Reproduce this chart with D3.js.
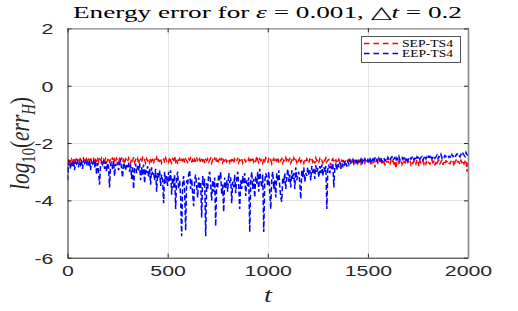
<!DOCTYPE html>
<html>
<head>
<meta charset="utf-8">
<script src="https://cdn.jsdelivr.net/npm/d3@7"></script>
<style>
  body { margin: 0; background: #fff; }
  svg { display: block; }
</style>
</head>
<body>
<svg width="518" height="311"></svg>
<script>
// sampled every 5 time units, t = 0 .. 2000
var dt = 5;

var sepTS4 = [
  -3.0, -2.6, -2.54, -2.66, -2.57, -2.7, -2.52, -2.63, -2.58, -2.5, -2.67, -2.56, -2.62, -2.49, -2.68, -2.58, -2.53, -2.65, -2.6, -2.55,
  -2.7, -2.57, -2.62, -2.5, -2.66, -2.59, -2.54, -2.72, -2.58, -2.62, -2.5, -2.67, -2.56, -2.6, -2.53, -2.74, -2.58, -2.63, -2.55, -2.68,
  -2.6, -2.52, -2.66, -2.58, -2.62, -2.5, -2.7, -2.56, -2.64, -2.53, -2.6, -2.68, -2.55, -2.62, -2.5, -2.66, -2.59, -2.72, -2.55, -2.6,
  -2.65, -2.52, -2.6, -2.7, -2.56, -2.62, -2.49, -2.67, -2.58, -2.63, -2.54, -2.72, -2.6, -2.56, -2.66, -2.52, -2.62, -2.58, -2.7, -2.55,
  -2.62, -2.57, -2.68, -2.52, -2.64, -2.58, -2.71, -2.55, -2.6, -2.5, -2.66, -2.58, -2.63, -2.54, -2.7, -2.6, -2.56, -2.68, -2.52, -2.62,
  -2.58, -2.66, -2.5, -2.63, -2.7, -2.55, -2.6, -2.47, -2.65, -2.57, -2.73, -2.6, -2.54, -2.66, -2.58, -2.62, -2.5, -2.68, -2.56, -2.61,
  -2.67, -2.55, -2.6, -2.52, -2.64, -2.58, -2.7, -2.56, -2.62, -2.5, -2.66, -2.6, -2.55, -2.68, -2.58, -2.63, -2.52, -2.7, -2.57, -2.62,
  -2.55, -2.66, -2.6, -2.53, -2.69, -2.58, -2.62, -2.5, -2.66, -2.57, -2.71, -2.6, -2.55, -2.64, -2.52, -2.68, -2.58, -2.62, -2.54, -2.66,
  -2.6, -2.56, -2.67, -2.53, -2.62, -2.58, -2.7, -2.55, -2.6, -2.64, -2.52, -2.68, -2.58, -2.62, -2.55, -2.7, -2.6, -2.57, -2.65, -2.58,
  -2.62, -2.54, -2.68, -2.58, -2.6, -2.5, -2.66, -2.57, -2.63, -2.46, -2.6, -2.68, -2.55, -2.62, -2.58, -2.7, -2.56, -2.64, -2.52, -2.6,
  -2.66, -2.55, -2.62, -2.58, -2.72, -2.6, -2.54, -2.66, -2.59, -2.63, -2.5, -2.68, -2.57, -2.62, -2.55, -2.7, -2.6, -2.64, -2.52, -2.66,
  -2.58, -2.62, -2.55, -2.7, -2.6, -2.66, -2.52, -2.63, -2.58, -2.68, -2.56, -2.62, -2.5, -2.66, -2.6, -2.57, -2.7, -2.58, -2.64, -2.55,
  -2.62, -2.69, -2.56, -2.6, -2.54, -2.66, -2.58, -2.72, -2.52, -2.62, -2.58, -2.67, -2.55, -2.63, -2.6, -2.7, -2.57, -2.62, -2.53, -2.66,
  -2.6, -2.57, -2.66, -2.78, -2.6, -2.55, -2.68, -2.62, -2.58, -2.7, -2.63, -2.56, -2.66, -2.82, -2.6, -2.64, -2.57, -2.7, -2.6, -2.66,
  -2.62, -2.58, -2.7, -2.6, -2.66, -2.55, -2.73, -2.62, -2.6, -2.68, -2.57, -2.65, -2.6, -2.72, -2.58, -2.66, -2.62, -2.7, -2.6, -2.64,
  -2.66, -2.6, -2.58, -2.74, -2.62, -2.68, -2.6, -2.85, -2.64, -2.6, -2.7, -2.62, -2.57, -2.72, -2.64, -2.68, -2.6, -2.78, -2.62, -2.66,
  -2.64, -2.7, -2.76, -2.6, -2.68, -2.62, -2.72, -2.64, -2.88, -2.66, -2.6, -2.7, -2.64, -2.6, -2.74, -2.62, -2.68, -2.64, -2.72, -2.6,
  -2.68, -2.62, -2.6, -2.75, -2.64, -2.7, -2.63, -2.6, -2.72, -2.58, -2.66, -2.8, -2.62, -2.7, -2.66, -2.62, -2.74, -2.64, -2.72, -2.6,
  -2.65, -2.7, -2.74, -2.62, -2.6, -2.69, -2.64, -2.78, -2.62, -2.7, -2.63, -2.6, -2.72, -2.66, -2.6, -2.76, -2.64, -2.7, -2.62, -2.66,
  -2.62, -2.7, -2.72, -2.64, -2.65, -2.6, -2.8, -2.66, -2.6, -2.7, -2.64, -2.66, -2.74, -2.6, -2.68, -2.62, -2.72, -2.64, -2.6, -3.0,
  -2.68
];

var eepTS4 = [
  -3.3, -2.75, -2.62, -2.9, -2.68, -2.8, -2.6, -2.95, -2.66, -2.72, -2.58, -2.85, -2.64, -2.75, -2.6, -2.9, -2.62, -2.7, -2.57, -2.8,
  -2.65, -2.78, -2.6, -2.95, -2.66, -2.72, -2.58, -2.85, -2.62, -3.1, -2.7, -3.0, -3.45, -2.8, -2.66, -2.75, -2.6, -2.9, -2.64, -3.0,
  -2.7, -2.85, -3.55, -2.75, -2.65, -2.9, -2.62, -3.15, -2.72, -2.8, -2.66, -2.95, -2.7, -2.62, -2.88, -3.2, -2.68, -2.8, -2.95, -2.72,
  -2.85, -2.68, -3.0, -2.75, -3.25, -2.8, -3.6, -2.9, -2.72, -3.05, -2.8, -2.95, -2.7, -3.3, -2.85, -3.1, -2.75, -3.4, -2.9, -3.05,
  -2.8, -3.2, -2.9, -3.45, -2.85, -3.1, -3.0, -3.3, -2.9, -3.7, -3.05, -3.25, -2.95, -3.5, -3.1, -3.3, -4.1, -3.0, -3.4, -3.15,
  -3.5, -3.0, -3.35, -2.95, -3.8, -3.2, -3.55, -3.1, -4.3, -3.25, -3.0, -3.6, -3.3, -3.9, -5.25, -3.4, -3.15, -3.7, -5.05, -3.3,
  -3.45, -3.1, -2.95, -3.6, -3.25, -3.75, -4.2, -3.3, -3.1, -3.5, -3.9, -3.2, -3.6, -3.35, -4.6, -3.15, -3.5, -3.25, -5.25, -3.4,
  -3.6, -3.1, -3.0, -3.45, -4.0, -3.3, -3.7, -3.2, -4.9, -3.4, -3.55, -3.1, -3.3, -3.0, -3.8, -3.45, -4.4, -3.2, -3.6, -3.3,
  -3.7, -3.05, -3.4, -3.2, -4.1, -3.35, -3.55, -3.1, -3.75, -3.25, -3.0, -3.5, -4.3, -3.3, -3.6, -3.15, -3.4, -3.05, -3.85, -3.3,
  -3.5, -3.2, -5.1, -3.35, -3.0, -3.6, -3.25, -3.9, -3.15, -3.45, -3.0, -3.7, -2.9, -3.3, -3.55, -3.1, -5.1, -3.35, -3.05, -3.2,
  -3.5, -3.0, -3.7, -4.3, -3.2, -3.0, -3.6, -3.3, -3.9, -3.05, -3.35, -2.95, -3.5, -3.9, -4.05, -3.2, -3.4, -3.05, -3.6, -3.2,
  -2.9, -3.35, -3.1, -3.55, -2.95, -3.25, -3.05, -3.6, -2.85, -3.3, -3.1, -3.0, -3.4, -3.95, -2.95, -3.2, -2.85, -3.35, -3.05, -3.15,
  -2.85, -3.1, -2.95, -3.3, -2.8, -3.05, -2.9, -3.25, -2.78, -3.0, -2.88, -3.2, -2.8, -3.05, -2.75, -3.15, -2.85, -3.0, -2.8, -4.3,
  -2.9, -2.75, -3.05, -2.8, -2.95, -2.7, -3.55, -2.85, -2.75, -2.95, -2.7, -2.85, -2.65, -2.9, -2.7, -2.8, -2.62, -2.75, -2.68, -2.82,
  -2.65, -2.75, -2.6, -2.7, -2.66, -2.58, -2.72, -2.62, -2.68, -2.55, -2.7, -2.6, -2.65, -2.57, -2.74, -2.6, -2.66, -2.55, -2.62, -2.68,
  -2.58, -2.65, -2.52, -2.7, -2.6, -2.55, -2.66, -2.5, -2.62, -2.57, -2.68, -2.53, -2.6, -2.5, -2.64, -2.56, -2.52, -2.62, -2.55, -2.6,
  -2.5, -2.58, -2.62, -2.52, -2.48, -2.6, -2.55, -2.5, -2.63, -2.52, -2.57, -2.47, -2.6, -2.54, -2.5, -2.58, -2.46, -2.55, -2.6, -2.5,
  -2.62, -2.52, -2.48, -2.56, -2.5, -2.45, -2.58, -2.53, -2.6, -2.48, -2.52, -2.45, -2.56, -2.5, -2.47, -2.6, -2.52, -2.44, -2.55, -2.48,
  -2.55, -2.46, -2.5, -2.42, -2.56, -2.5, -2.45, -2.53, -2.48, -2.42, -2.55, -2.47, -2.5, -2.4, -2.52, -2.46, -2.5, -2.43, -2.48, -2.45,
  -2.42, -2.5, -2.46, -2.52, -2.4, -2.47, -2.44, -2.5, -2.42, -2.38, -2.46, -2.43, -2.48, -2.4, -2.45, -2.36, -2.42, -2.47, -2.33, -2.4,
  -2.45
];

var seriesNames = ["SEP-TS4", "EEP-TS4"];
var seriesColors = ["#ff0000", "#0000ff"];
var xTicks = [0, 500, 1000, 1500, 2000];
var yTicks = [-6, -4, -2, 0, 2];

var svg = d3.select("svg");
var pLeft = 67.5, pRight = 468, pTop = 28.4, pBottom = 257.7;
var stretch = 1.42; // the picture is wider than tall, text looks stretched

var x = d3.scaleLinear().domain([0, 2000]).range([pLeft, pRight]);
var y = d3.scaleLinear().domain([-6, 2]).range([pBottom, pTop]);

// grid
var grid = svg.append("g").attr("stroke", "#e3e3e3").attr("stroke-width", 1);
grid.selectAll(".gx").data(xTicks.slice(1, -1)).enter().append("line")
    .attr("x1", function(d) { return Math.round(x(d)) + 0.5; })
    .attr("x2", function(d) { return Math.round(x(d)) + 0.5; })
    .attr("y1", pTop).attr("y2", pBottom);
grid.selectAll(".gy").data(yTicks.slice(1, -1)).enter().append("line")
    .attr("y1", function(d) { return Math.round(y(d)) + 0.5; })
    .attr("y2", function(d) { return Math.round(y(d)) + 0.5; })
    .attr("x1", pLeft).attr("x2", pRight);

// data lines
var line = d3.line()
    .x(function(d, i) { return x(i * dt); })
    .y(function(d) { return y(d); });

svg.append("defs").append("clipPath").attr("id", "plot")
  .append("rect").attr("x", pLeft).attr("y", pTop)
    .attr("width", pRight - pLeft).attr("height", pBottom - pTop);

[sepTS4, eepTS4].forEach(function(s, k) {
  svg.append("path")
      .datum(s)
      .attr("clip-path", "url(#plot)")
      .attr("fill", "none")
      .attr("stroke", seriesColors[k])
      .attr("stroke-width", 1.5)
      .attr("stroke-dasharray", "5,2.5")
      .attr("d", line);
});

// axes
var xAxis = svg.append("g")
    .attr("transform", "translate(0," + pBottom + ")")
    .call(d3.axisBottom(x).tickValues(xTicks).tickFormat(d3.format("d"))
      .tickSizeInner(-4).tickSizeOuter(0).tickPadding(8));
var yAxis = svg.append("g")
    .attr("transform", "translate(" + pLeft + ",0)")
    .call(d3.axisLeft(y).tickValues(yTicks).tickSizeInner(-4).tickSizeOuter(0).tickPadding(5));

svg.append("g")
    .attr("transform", "translate(0," + pTop + ")")
    .call(d3.axisTop(x).tickValues(xTicks).tickSizeInner(-4).tickSizeOuter(0).tickFormat(""))
    .select(".domain").attr("stroke", "#666");
svg.append("g")
    .attr("transform", "translate(" + pRight + ",0)")
    .call(d3.axisRight(y).tickValues(yTicks).tickSizeInner(-4).tickSizeOuter(0).tickFormat(""))
    .select(".domain").attr("stroke", "#888").attr("stroke-width", 1.6);

svg.selectAll(".tick line").attr("stroke", "#262626");
xAxis.select(".domain").attr("stroke", "#262626");
yAxis.select(".domain").attr("stroke", "#262626");

svg.selectAll(".tick text")
    .attr("fill", "#262626")
    .style("font-family", "'Liberation Sans', Arial, sans-serif")
    .style("font-size", "15px");
xAxis.selectAll(".tick text")
    .attr("transform", "scale(" + stretch + ",1)");
yAxis.selectAll(".tick text")
    .text(function(d) { return d < 0 ? "-" + Math.abs(d) : d; })
    .attr("dy", "0.36em")
    .attr("transform", "translate(-7,0) scale(" + stretch + ",1)");

// title
var title = svg.append("text")
    .attr("x", 267.5).attr("y", 17.5)
    .attr("text-anchor", "middle")
    .attr("textLength", 389)
    .attr("lengthAdjust", "spacingAndGlyphs")
    .style("font-family", "'Liberation Serif', serif")
    .style("font-size", "17px")
    .attr("fill", "#000");
title.append("tspan").text("Energy error for ");
title.append("tspan").style("font-style", "italic").text("ε");
title.append("tspan").text(" = 0.001, △");
title.append("tspan").style("font-style", "italic").text("t");
title.append("tspan").text(" = 0.2");

// x label
svg.append("text")
    .attr("transform", "translate(268,302) scale(" + stretch + ",1)")
    .attr("text-anchor", "middle")
    .style("font-family", "'Liberation Serif', serif")
    .style("font-style", "italic")
    .style("font-size", "20px")
    .attr("fill", "#262626")
    .text("t");

// y label
var ylab = svg.append("text")
    .attr("transform", "translate(29,143.5) scale(" + stretch + ",1) rotate(-90)")
    .attr("text-anchor", "middle")
    .attr("textLength", 93)
    .attr("lengthAdjust", "spacingAndGlyphs")
    .style("font-family", "'Liberation Serif', serif")
    .style("font-size", "19px")
    .attr("fill", "#262626");
ylab.append("tspan").style("font-style", "italic").text("log");
ylab.append("tspan").attr("dy", 4).style("font-size", "13px").text("10");
ylab.append("tspan").attr("dy", -4).text("(");
ylab.append("tspan").style("font-style", "italic").text("err");
ylab.append("tspan").attr("dy", 4).style("font-size", "13px").style("font-style", "italic").text("H");
ylab.append("tspan").attr("dy", -4).text(")");

// legend
var legendData = seriesNames.map(function(name, i) { return { name: name, color: seriesColors[i], row: i }; });
var legend = svg.append("g");
legend.append("rect")
    .attr("x", 361.5).attr("y", 36.5).attr("width", 99).attr("height", 26)
    .attr("fill", "#fff").attr("stroke", "#555").attr("stroke-width", 1);
var entry = legend.selectAll(".entry").data(legendData).enter().append("g")
    .attr("transform", function(d) { return "translate(0," + (43.5 + d.row * 10) + ")"; });
entry.append("path")
    .attr("d", "M364,0H400")
    .attr("fill", "none")
    .attr("stroke", function(d) { return d.color; })
    .attr("stroke-width", 1.6)
    .attr("stroke-dasharray", "5.5,4");
entry.append("text")
    .attr("x", 402).attr("y", 3.5)
    .attr("textLength", 51)
    .attr("lengthAdjust", "spacingAndGlyphs")
    .style("font-family", "'Liberation Serif', serif")
    .style("font-size", "10px")
    .attr("fill", "#000")
    .text(function(d) { return d.name; });
</script>
</body>
</html>
